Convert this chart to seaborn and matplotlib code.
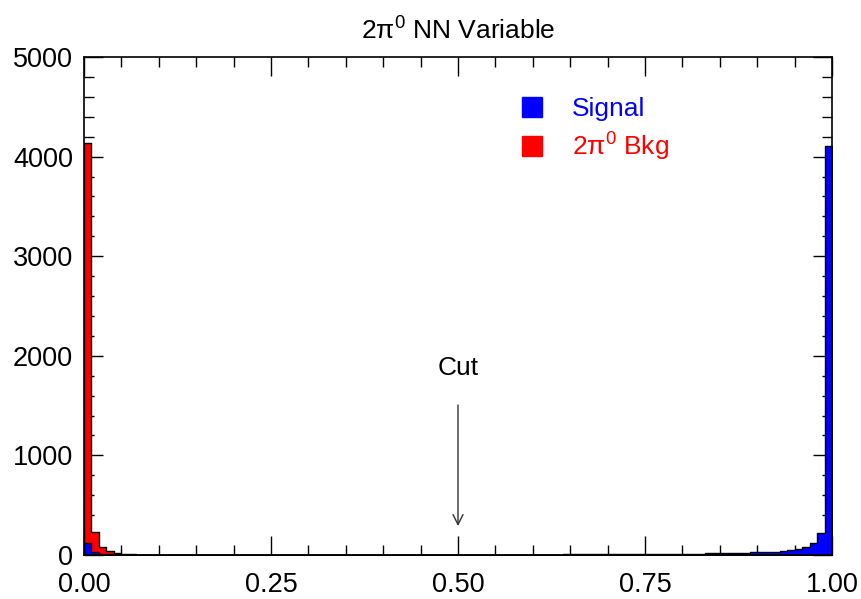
import numpy as np
import pandas as pd
import matplotlib
matplotlib.use("Agg")
import matplotlib.pyplot as plt
from matplotlib.lines import Line2D
from matplotlib.ticker import MultipleLocator, FixedLocator
import seaborn as sns

# ---------------- data (100 bins of width 0.01 on [0, 1]) ----------------
bin_edges = [round(i * 0.01, 2) for i in range(101)]
bin_centers = [round(i * 0.01 + 0.005, 3) for i in range(100)]

bkg_counts = [
    4135, 230, 85, 40, 22, 12, 8, 5, 4, 3,
    3, 2, 2, 2, 2, 1, 1, 1, 1, 1,
    1, 1, 1, 1, 1, 1, 1, 1, 1, 1,
    1, 1, 1, 0, 0, 0, 0, 0, 0, 0,
    0, 0, 0, 0, 0, 0, 0, 0, 0, 0,
    0, 0, 0, 0, 0, 0, 0, 0, 0, 0,
    0, 0, 0, 0, 0, 0, 0, 0, 0, 0,
    0, 0, 0, 0, 0, 0, 0, 0, 0, 0,
    0, 0, 0, 0, 0, 0, 0, 0, 0, 0,
    0, 0, 0, 0, 0, 0, 0, 0, 0, 0,
]

signal_counts = [
    120, 30, 12, 6, 4, 3, 3, 2, 2, 2,
    2, 2, 2, 2, 2, 2, 2, 2, 2, 2,
    2, 2, 2, 2, 2, 2, 2, 2, 2, 2,
    2, 2, 2, 2, 2, 2, 2, 2, 2, 2,
    2, 2, 2, 2, 2, 2, 2, 2, 2, 2,
    3, 3, 3, 3, 3, 3, 3, 3, 4, 4,
    4, 5, 5, 5, 6, 6, 7, 7, 8, 8,
    9, 9, 10, 10, 11, 11, 12, 12, 13, 13,
    14, 14, 15, 17, 18, 20, 20, 22, 23, 27,
    30, 32, 35, 40, 48, 65, 83, 117, 218, 4110,
]

series_names = ["Signal", "2$\\mathregular{\\pi^0}$ Bkg"]
series_colors = ["#0000ff", "#ff0000"]

x_ticks = [0.0, 0.25, 0.5, 0.75, 1.0]
x_tick_labels = ["0.00", "0.25", "0.50", "0.75", "1.00"]
y_ticks = [0, 1000, 2000, 3000, 4000, 5000]
y_tick_labels = ["0", "1000", "2000", "3000", "4000", "5000"]

title = "2$\\mathregular{\\pi^0}$ NN Variable"
cut_value = 0.5

# ---------------- plot ----------------
sns.set_theme(style="white")
plt.rcParams["font.family"] = ["Liberation Sans", "DejaVu Sans"]
plt.rcParams["mathtext.fontset"] = "custom"
plt.rcParams["mathtext.rm"] = "Liberation Sans"
plt.rcParams["text.color"] = "black"
plt.rcParams["xtick.color"] = "black"
plt.rcParams["ytick.color"] = "black"
plt.rcParams["xtick.labelcolor"] = "black"
plt.rcParams["ytick.labelcolor"] = "black"

fig = plt.figure(figsize=(8.62, 5.99), dpi=100)
ax = fig.add_axes([84 / 862, 1 - 555 / 599, (832 - 84) / 862, (555 - 57) / 599])

df_bkg = pd.DataFrame({"x": bin_centers, "w": bkg_counts})
df_sig = pd.DataFrame({"x": bin_centers, "w": signal_counts})

sns.histplot(data=df_bkg, x="x", weights="w", bins=bin_edges, element="step",
             fill=True, color=series_colors[1], alpha=1.0, edgecolor="black",
             linewidth=1.0, ax=ax)
sns.histplot(data=df_sig, x="x", weights="w", bins=bin_edges, element="step",
             fill=True, color=series_colors[0], alpha=1.0, edgecolor="black",
             linewidth=1.0, ax=ax)

ax.set_xlim(0, 1)
ax.set_ylim(0, 5000)
ax.set_xlabel("")
ax.set_ylabel("")

ax.xaxis.set_major_locator(FixedLocator(x_ticks))
ax.set_xticklabels(x_tick_labels)
ax.xaxis.set_minor_locator(MultipleLocator(0.05))
ax.yaxis.set_major_locator(FixedLocator(y_ticks))
ax.set_yticklabels(y_tick_labels)
ax.yaxis.set_minor_locator(MultipleLocator(200))

ax.tick_params(axis="both", which="both", direction="in", top=True, right=True,
               bottom=True, left=True, color="black", width=1.0)
ax.tick_params(axis="both", which="major", length=14, labelsize=19.5,
               labelcolor="black")
ax.tick_params(axis="y", which="major", pad=8)
ax.tick_params(axis="x", which="major", pad=12.5)
ax.tick_params(axis="both", which="minor", length=7)

for s in ax.spines.values():
    s.set_color("black")
    s.set_linewidth(1.2)

fig.text(0.5 * (84 + 832) / 862, 1 - 31 / 599, title, ha="center", va="center",
         fontsize=19, color="black")

# Cut annotation
ax.annotate("", xy=(cut_value, 290), xytext=(cut_value, 1506),
            arrowprops=dict(arrowstyle="->", color="#333333", lw=1.0,
                            mutation_scale=18, shrinkA=0, shrinkB=0))
ax.text(cut_value, 1877, "Cut", ha="center", va="center", fontsize=19,
        color="black")

# Legend
handles = [Line2D([], [], linestyle="none", marker="s", markersize=15,
                  markerfacecolor=c, markeredgecolor=c) for c in series_colors]
leg = ax.legend(handles, series_names, loc="upper left",
                bbox_to_anchor=((519 - 84) / 748, (555 - 97) / 498),
                frameon=False, fontsize=19, handlelength=1.0,
                handletextpad=1.0, labelspacing=0.36, borderpad=0,
                borderaxespad=0)
for t, c in zip(leg.get_texts(), series_colors):
    t.set_color(c)

fig.savefig("out.png", dpi=100)
